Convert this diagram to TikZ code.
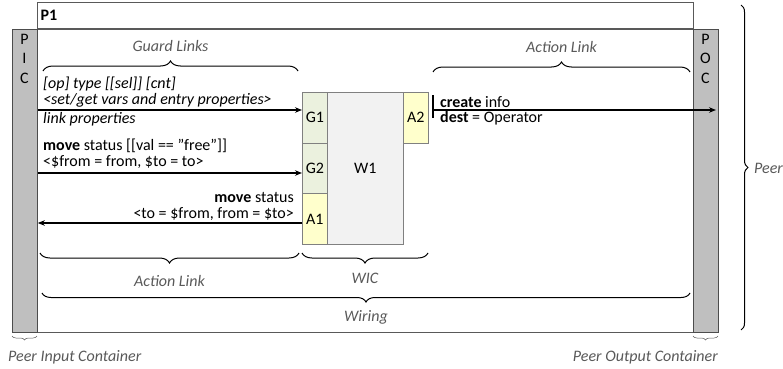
\documentclass[tikz,border=0pt]{standalone}
\usepackage{fontspec}
\setmainfont{Carlito}
\usetikzlibrary{decorations.pathreplacing,arrows.meta}
\definecolor{gtext}{HTML}{595959}
\definecolor{contfill}{HTML}{BFBFBF}
\definecolor{gfill}{HTML}{EBF1DE}
\definecolor{afill}{HTML}{FFFFCC}
\definecolor{wfill}{HTML}{F2F2F2}
\begin{document}
\begin{tikzpicture}[x=1pt,y=1pt,
  font=\fontsize{16}{19}\selectfont,
  frame/.style={draw=black!65, line width=0.8pt, inner sep=0pt, minimum width=656pt},
  cont/.style={draw=black!70, fill=contfill, line width=0.8pt, inner sep=0pt, minimum width=25pt, minimum height=303pt, anchor=north west},
  cell/.style={draw=black!50, line width=0.8pt, inner sep=0pt, minimum width=25pt, minimum height=50.7pt, anchor=north west},
  gbox/.style={cell, fill=gfill},
  abox/.style={cell, fill=afill},
  lbl/.style={inner sep=0pt},
  note/.style={inner sep=0pt, text=gtext, font=\fontsize{16}{19}\selectfont\itshape},
  arr/.style={-{Stealth[length=7pt,width=5.5pt]}, line width=1.2pt},
  brc/.style={decorate, decoration={brace, amplitude=#1}, line width=1pt},
  brc/.default=10pt
]
\useasboundingbox (0,0) rectangle (783,368);

% frames
\node[frame, minimum height=26pt, anchor=south west] (P1) at (37,339) {};
\node[lbl, anchor=west, font=\fontsize{16}{19}\selectfont\bfseries] (P1lbl) at (40.5,353) {P1};
\node[frame, minimum height=303pt, anchor=north west] (body) at (37,339) {};
\node[cont] (PIC) at (12,339) {};
\node[cont] (POC) at (693,339) {};
\node[lbl] (picP) at (24.5,329) {P};
\node[lbl] (picI) at (24.5,309.5) {I};
\node[lbl] (picC) at (24.5,290) {C};
\node[lbl] (pocP) at (705.5,329) {P};
\node[lbl] (pocO) at (705.5,309.5) {O};
\node[lbl] (pocC) at (705.5,290) {C};

% wiring components
\node[draw=black!50, fill=wfill, line width=0.8pt, inner sep=0pt, minimum width=76pt, minimum height=152pt, anchor=north west] (W1) at (327,276) {W1};
\node[gbox] (G1) at (302,276) {G1};
\node[gbox] (G2) at (302,225.3) {G2};
\node[abox] (A1) at (302,174.6) {A1};
\node[abox] (A2) at (403,276) {A2};

% links
\coordinate (y1) at (0,258);
\coordinate (y2) at (0,195);
\coordinate (y3) at (0,145);
\draw[arr] (PIC.east |- y1) -- (G1.west |- y1);
\draw[arr] (PIC.east |- y2) -- (G2.west |- y2);
\draw[arr] (A1.west |- y3) -- (PIC.east |- y3);
\coordinate (a2s) at (433,258);
\coordinate (a2e) at (716,258);
\coordinate (tickt) at (433,273);
\coordinate (tickb) at (433,250);
\draw[line width=1.2pt] (tickt) -- (tickb);
\draw[arr] (a2s) -- (a2e);

% link labels
\node[lbl, anchor=west, font=\fontsize{16}{19}\selectfont\itshape] (t1) at (43,284) {[op] type [[sel]] [cnt]};
\node[lbl, anchor=west, font=\fontsize{16}{19}\selectfont\itshape] (t2) at (43,268) {<set/get vars and entry properties>};
\node[lbl, anchor=west, font=\fontsize{16}{19}\selectfont\itshape] (t3) at (43,249) {link properties};
\node[lbl, anchor=west] (t4) at (43,222) {\textbf{move} status [[val == "free"]]};
\node[lbl, anchor=west] (t5) at (43,206) {<\$from = from, \$to = to>};
\node[lbl, anchor=east] (t6) at (294,171) {\textbf{move} status};
\node[lbl, anchor=east] (t7) at (294,154) {<to = \$from, from = \$to>};
\node[lbl, anchor=west] (t8) at (440,266) {\textbf{create} info};
\node[lbl, anchor=west] (t9) at (440,250) {\textbf{dest} = Operator};

% braces
\coordinate (gl1) at (43,297); \coordinate (gl2) at (298,297);
\draw[brc] (gl1) -- (gl2);
\node[note] (gl) at (170.5,322) {Guard Links};
\coordinate (al1) at (433,296); \coordinate (al2) at (690,296);
\draw[brc] (al1) -- (al2);
\node[note] (al) at (561.5,321) {Action Link};
\coordinate (bl1) at (40,115); \coordinate (bl2) at (299,115);
\draw[brc] (bl2) -- (bl1);
\node[note] (bl) at (169.5,87) {Action Link};
\coordinate (wc1) at (302,115); \coordinate (wc2) at (428,115);
\draw[brc] (wc2) -- (wc1);
\node[note] (wic) at (365,90) {WIC};
\coordinate (wr1) at (42,75); \coordinate (wr2) at (690,75);
\draw[brc=9pt] (wr2) -- (wr1);
\node[note] (wiring) at (366,51) {Wiring};
\coordinate (pi1) at (12,32); \coordinate (pi2) at (37,32);
\draw[decorate, decoration={brace, amplitude=4pt}, line width=0.5pt, draw=gtext] (pi2) -- (pi1);
\node[note, anchor=west] (pic) at (8,11) {Peer Input Container};
\coordinate (po1) at (693,32); \coordinate (po2) at (718,32);
\draw[decorate, decoration={brace, amplitude=4pt}, line width=0.5pt, draw=gtext] (po2) -- (po1);
\node[note, anchor=east] (poc) at (718,11) {Peer Output Container};
\coordinate (pe1) at (741,363); \coordinate (pe2) at (741,38);
\draw[brc=7pt] (pe1) -- (pe2);
\node[note, anchor=west] (peer) at (754,200) {Peer};
\end{tikzpicture}
\end{document}
